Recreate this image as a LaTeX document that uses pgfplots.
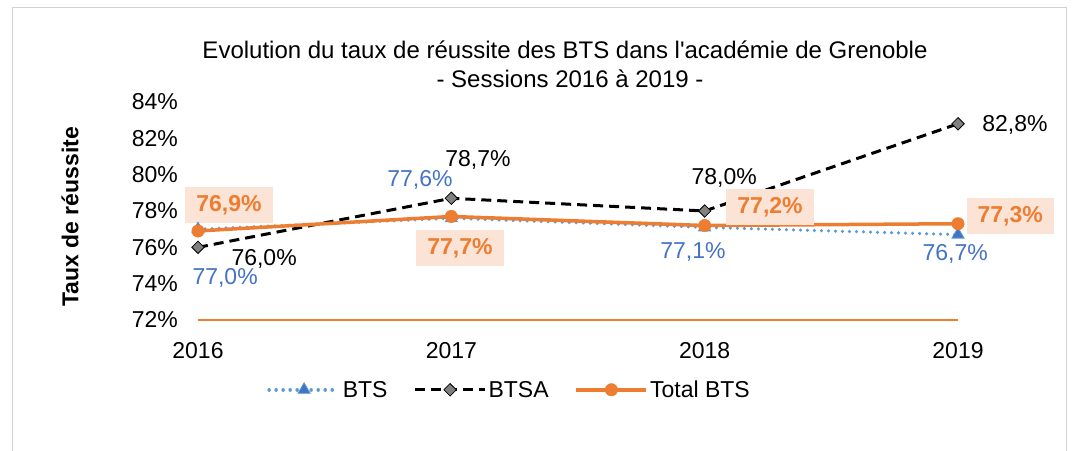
\documentclass[border=0pt]{standalone}
\usepackage{fontspec}
\setmainfont{Liberation Sans}[Ligatures=TeXOff]
\usepackage{pgfplots}
\pgfplotsset{compat=1.18}
\definecolor{btsline}{HTML}{5B9BD5}
\definecolor{btsmark}{HTML}{4472C4}
\definecolor{btstext}{HTML}{4472C4}
\definecolor{totor}{HTML}{ED7D31}
\definecolor{totbox}{HTML}{FBE3D6}
\definecolor{btsagray}{HTML}{808080}
\newcommand{\fs}{\fontsize{23}{27}\selectfont}
\begin{document}
\begin{tikzpicture}[font=\fs]
\useasboundingbox (0,0) rectangle (1075pt,450pt);
\draw[black!18, line width=1pt] (12pt,-5pt) rectangle (1066pt,442pt);
\begin{axis}[
  at={(198pt,130pt)}, anchor=south west,
  scale only axis, width=760pt, height=218pt,
  xmin=0, xmax=3, ymin=72, ymax=84,
  xtick={0,1,2,3}, xticklabels={2016,2017,2018,2019},
  ytick={72,74,76,78,80,82,84},
  yticklabel={\pgfmathprintnumber{\tick}\%},
  /pgf/number format/assume math mode=true,
  /pgf/number format/fixed, /pgf/number format/precision=0,
  axis x line=bottom, axis y line=left,
  x axis line style={draw=totor, line width=1.5pt, -},
  y axis line style={draw=none},
  major tick length=0pt,
  tick label style={font=\fs},
  yticklabel style={anchor=east, inner sep=0pt, xshift=-20pt},
  xticklabel style={anchor=north, inner sep=0pt, yshift=-22pt},
  clip=false,
  legend columns=3,
  legend style={at={(0.41,-0.32)}, anchor=center, draw=none, fill=none, font=\fs,
    /tikz/every even column/.append style={column sep=24pt}},
  legend image code/.code={\draw[mark repeat=2,mark phase=2,#1] plot coordinates {(0pt,0pt)(35pt,0pt)(70pt,0pt)};},
]
\addplot[btsline, line width=3.5pt, line cap=round, dash pattern=on 0.01pt off 7pt,
  mark=triangle*, mark size=7pt, mark options={solid, fill=btsmark, draw=btsline, line width=0.8pt}]
  coordinates {(0,77.0) (1,77.6) (2,77.1) (3,76.7)};
\addlegendentry{BTS}
\addplot[black, line width=3pt, dash pattern=on 10pt off 6pt,
  mark=square*, mark size=4.4pt, mark options={solid, rotate=45, fill=btsagray, draw=black, line width=0.8pt}]
  coordinates {(0,76.0) (1,78.7) (2,78.0) (3,82.8)};
\addlegendentry{BTSA}
\addplot[totor, line width=3.5pt,
  mark=*, mark size=6.2pt, mark options={solid, fill=totor, draw=totor, line width=0.5pt}]
  coordinates {(0,76.9) (1,77.7) (2,77.2) (3,77.3)};
\addlegendentry{Total BTS}
% BTS labels
\node[text=btstext, font=\fs] at (axis cs:0.107,74.31) {77,0\%};
\node[text=btstext, font=\fs] at (axis cs:0.876,79.71) {77,6\%};
\node[text=btstext, font=\fs] at (axis cs:1.954,75.74) {77,1\%};
\node[text=btstext, font=\fs] at (axis cs:2.989,75.63) {76,7\%};
% BTSA labels
\node[text=black, font=\fs] at (axis cs:0.261,75.36) {76,0\%};
\node[text=black, font=\fs] at (axis cs:1.105,80.81) {78,7\%};
\node[text=black, font=\fs] at (axis cs:2.077,79.81) {78,0\%};
\node[text=black, font=\fs] at (axis cs:3.225,82.73) {82,8\%};
% Total labels
\tikzset{totlab/.style={text=totor, fill=totbox, font=\fs\bfseries, inner xsep=11pt, inner ysep=8pt}}
\node[totlab] at (axis cs:0.122,78.33) {76,9\%};
\node[totlab] at (axis cs:1.034,75.96) {77,7\%};
\node[totlab] at (axis cs:2.258,78.22) {77,2\%};
\node[totlab] at (axis cs:3.206,77.72) {77,3\%};
\end{axis}
\node[font=\fontsize{24}{28}\selectfont] at (565pt,400pt) {Evolution du taux de réussite des BTS dans l'académie de Grenoble};
\node[font=\fontsize{24}{28}\selectfont] at (570pt,371pt) {- Sessions 2016 à 2019 -};
\node[font=\fs\bfseries, rotate=90] at (70pt,233pt) {Taux de réussite};
\end{tikzpicture}
\end{document}
